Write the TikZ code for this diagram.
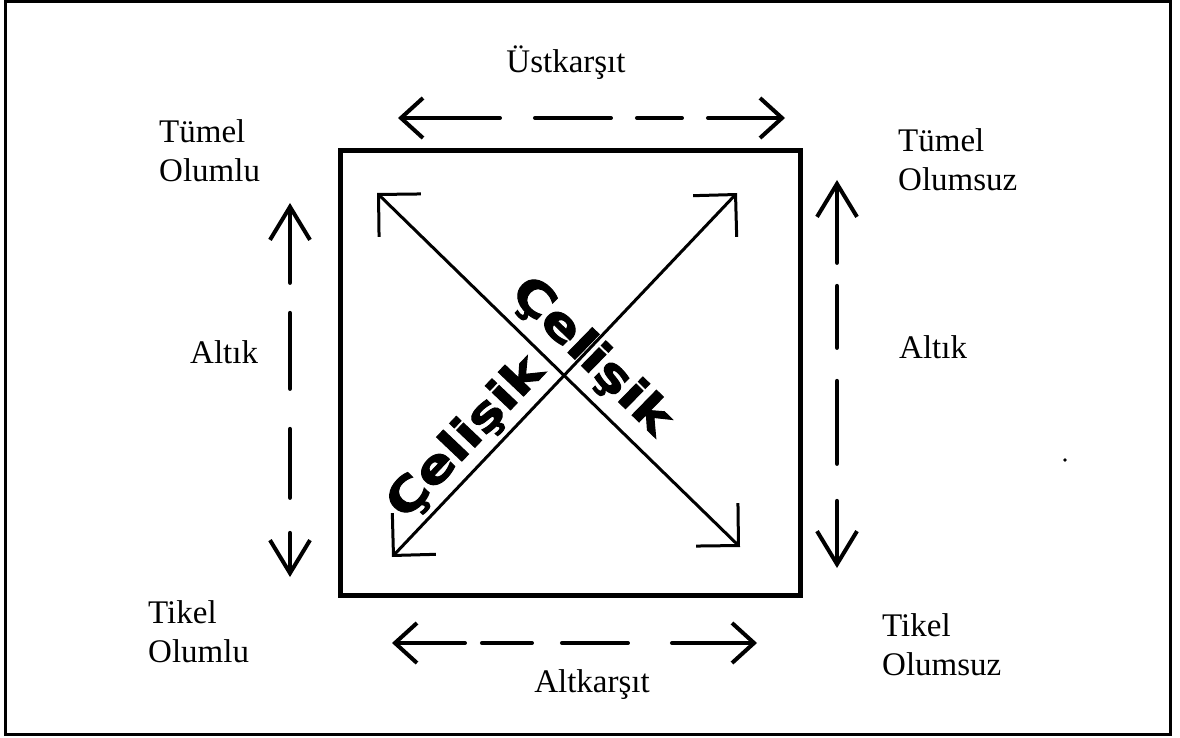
\documentclass[tikz,border=0pt]{standalone}
\usepackage{fontspec}
\setmainfont{Liberation Serif}
\newfontfamily\heavyfont[FakeBold=2]{DejaVu Sans Bold}
\usetikzlibrary{arrows.meta}
\tikzset{
  hbarb/.tip={Straight Barb[length=22pt,width=40pt]},
  vbarb/.tip={Straight Barb[length=33pt,width=40pt]},
  dbarb/.tip={Straight Barb[length=30pt,width=60pt]}
}
\begin{document}
\begin{tikzpicture}[x=1pt,y=-1pt,
  lbl/.style={font=\fontsize{33}{39}\selectfont, inner sep=0pt, align=left},
  crosstext/.style={font=\heavyfont\fontsize{46}{46}\selectfont, inner sep=0pt, xscale=1.2},
  opp/.style={line width=4pt, line cap=round}]
\useasboundingbox (0,0) rectangle (1180,738);
\draw[line width=3pt] (5.5,1.5) rectangle (1170.5,734.5);
%
\node[lbl, anchor=base] (ust) at (566,73) {Üstkarşıt};
\node[lbl, anchor=base] (alt) at (592,692) {Altkarşıt};
\node[lbl, anchor=base west] (tolumlu) at (159,182) {Tümel\\Olumlu};
\node[lbl, anchor=base west] (tolumsuz) at (898,190) {Tümel\\Olumsuz};
\node[lbl, anchor=base west] (kolumlu) at (148,662) {Tikel\\Olumlu};
\node[lbl, anchor=base west] (kolumsuz) at (882,675) {Tikel\\Olumsuz};
\node[lbl, anchor=base west] (altikl) at (190,363) {Altık};
\node[lbl, anchor=base west] (altikr) at (899,358) {Altık};
%
\draw[line width=5pt] (340.5,151) rectangle (800,595);
\coordinate (nw) at (377,193);
\coordinate (se) at (740,547);
\coordinate (sw) at (392,557);
\coordinate (ne) at (737,193);
\draw[line width=3pt, {dbarb}-{dbarb}] (nw) -- (se);
\draw[line width=3pt, {dbarb}-{dbarb}] (sw) -- (ne);
\node[rotate=46.5, crosstext] (cel1) at (466,438) {Çelişik};
\node[rotate=-44.3, crosstext] (cel2) at (591,357) {Çelişik};
%
\coordinate (ua) at (398,118);
\coordinate (ub) at (785,118);
\coordinate (aa) at (392,643);
\coordinate (ab) at (757,643);
\coordinate (la) at (290,203);
\coordinate (lb) at (290,577);
\coordinate (ra) at (837,180);
\coordinate (rb) at (837,568);
\draw[opp, {hbarb}-{hbarb}, dash pattern=on 97pt off 35pt on 76pt off 26pt on 45pt off 26pt on 82pt off 10pt] (ua) -- (ub);
\draw[opp, {hbarb}-{hbarb}, dash pattern=on 68pt off 17pt on 50pt off 30pt on 66pt off 44pt on 90pt off 10pt] (aa) -- (ab);
\draw[opp, {vbarb}-{vbarb}, dash pattern=on 74pt off 30pt on 76pt off 40pt on 69pt off 35pt on 50pt off 10pt] (la) -- (lb);
\draw[opp, {vbarb}-{vbarb}, dash pattern=on 77pt off 23pt on 62pt off 33pt on 83pt off 37pt on 73pt off 10pt] (ra) -- (rb);
%
\fill (1065,460) circle (1.8pt);
\end{tikzpicture}
\end{document}
